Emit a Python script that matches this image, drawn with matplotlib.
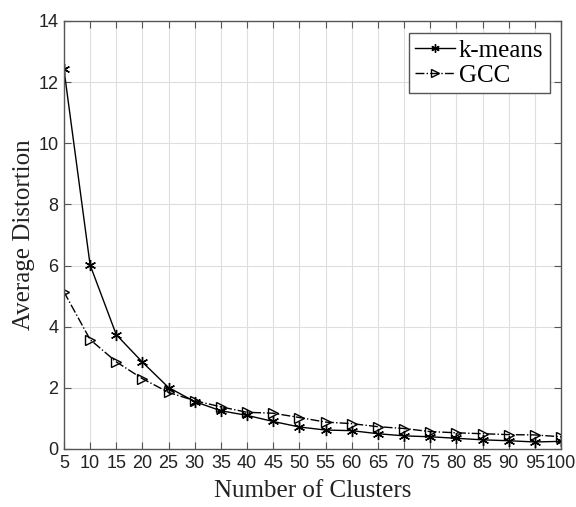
import numpy as np
import matplotlib
matplotlib.use("Agg")
import matplotlib.pyplot as plt

# cluster counts on the x axis
clusters = [5, 10, 15, 20, 25, 30, 35, 40, 45, 50, 55, 60, 65, 70, 75, 80, 85, 90, 95, 100]

# average distortion
kmeans = [12.42, 6.02, 3.74, 2.84, 2.01, 1.55, 1.25, 1.10, 0.90, 0.72, 0.62, 0.60, 0.50, 0.43,
          0.40, 0.35, 0.30, 0.27, 0.23, 0.25]
gcc = [5.14, 3.58, 2.85, 2.30, 1.85, 1.58, 1.38, 1.20, 1.17, 1.03, 0.88, 0.83, 0.73, 0.67,
       0.57, 0.53, 0.50, 0.47, 0.46, 0.40]

yticks = [0, 2, 4, 6, 8, 10, 12, 14]

SERIF = "Liberation Serif"
SANS = "Liberation Sans"
AX_COLOR = "#555555"


def main():
    fig = plt.figure(figsize=(5.76, 5.07), dpi=100)
    ax = fig.add_axes([0.111, 0.1144, 0.863, 0.8442])

    # matlab style asterisk marker
    ax.plot(clusters, kmeans, color="black", linestyle="-", linewidth=1.0,
            marker=(6, 2, 0), markersize=8, markeredgewidth=1.0,
            markeredgecolor="black", label="k-means")
    ax.plot(clusters, gcc, color="black", linestyle="-.", linewidth=1.0,
            marker=">", markersize=7, markerfacecolor="none", markeredgecolor="black",
            markeredgewidth=1.0, label="GCC")

    ax.set_xlim(5, 100)
    ax.set_ylim(0, 14)
    ax.set_xticks(clusters)
    ax.set_yticks(yticks)
    ax.set_xticklabels([str(c) for c in clusters], fontfamily=SANS, fontsize=13)
    ax.set_yticklabels([str(t) for t in yticks], fontfamily=SANS, fontsize=13)
    ax.tick_params(direction="in", top=True, right=True, length=5, width=0.8,
                   color=AX_COLOR, labelcolor="#222222", pad=4)

    ax.grid(True, color="#dedede", linewidth=0.8)
    ax.set_axisbelow(True)
    for sp in ax.spines.values():
        sp.set_color(AX_COLOR)
        sp.set_linewidth(1.0)

    ax.set_xlabel("Number of Clusters", fontfamily=SERIF, fontsize=18, color="#222222", labelpad=6)
    ax.set_ylabel("Average Distortion", fontfamily=SERIF, fontsize=18, color="#222222", labelpad=2)

    leg = ax.legend(loc="upper right", bbox_to_anchor=(0.977, 0.972),
                    prop={"family": SERIF, "size": 18}, frameon=True, fancybox=False,
                    handlelength=1.6, handletextpad=0.15, borderpad=0.25,
                    labelspacing=0.1, borderaxespad=0.0, framealpha=1.0,
                    markerscale=0.75)
    leg.get_frame().set_edgecolor(AX_COLOR)
    leg.get_frame().set_linewidth(1.0)

    fig.savefig("out.png", dpi=100)
    plt.close(fig)


if __name__ == "__main__":
    main()
